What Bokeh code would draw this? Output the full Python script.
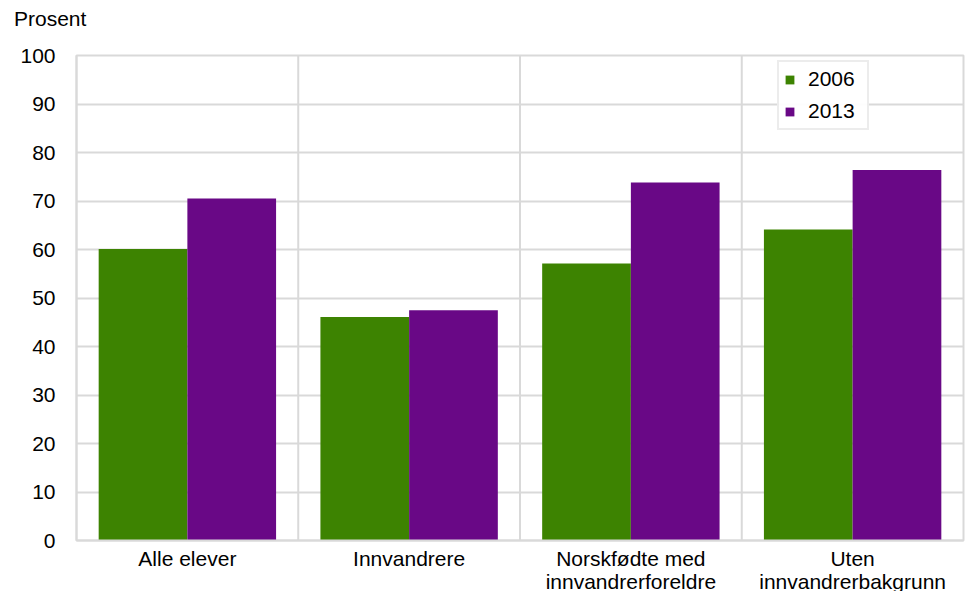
from bokeh.plotting import figure
from bokeh.models import FactorRange, ColumnDataSource, Span, Legend, LegendItem, Div
from bokeh.layouts import column
from bokeh.transform import dodge
from bokeh.embed import file_html
from bokeh.resources import INLINE

categories = ["Alle elever", "Innvandrere", "Norskfødte med\ninnvandrerforeldre", "Uten\ninnvandrerbakgrunn"]
years = ["2006", "2013"]
values_2006 = [60.1, 46.1, 57.1, 64.1]
values_2013 = [70.5, 47.5, 73.8, 76.4]
y_ticks = [0, 10, 20, 30, 40, 50, 60, 70, 80, 90, 100]
y_unit = "Prosent"

GREEN = "#3D8301"
PURPLE = "#690886"
GRID = "#d9d9d9"
FONT = "Liberation Sans"
FS = "21px"

src = ColumnDataSource(dict(cat=categories, v2006=values_2006, v2013=values_2013))

header = Div(text=y_unit, width=120, height=27, margin=(7, 0, 0, 14),
             styles={"font-size": FS, "font-family": FONT, "color": "#000000",
                     "line-height": "24px"})

p = figure(width=965, height=564, output_backend="svg", toolbar_location=None,
           x_range=FactorRange(factors=categories, range_padding=0),
           y_range=(0, 100),
           min_border_left=76, min_border_right=2, min_border_top=21, min_border_bottom=58)

r1 = p.vbar(x=dodge("cat", -0.2, range=p.x_range), top="v2006", width=0.4, source=src,
            fill_color=GREEN, line_color=None)
r2 = p.vbar(x=dodge("cat", 0.2, range=p.x_range), top="v2013", width=0.4, source=src,
            fill_color=PURPLE, line_color=None)

for i in range(1, len(categories)):
    p.add_layout(Span(location=i, dimension="height", line_color=GRID, line_width=2, level="underlay"))

p.xgrid.grid_line_color = None
p.ygrid.grid_line_color = GRID
p.ygrid.grid_line_width = 2
p.ygrid.ticker = y_ticks
p.yaxis.ticker = y_ticks

p.outline_line_color = GRID
p.outline_line_width = 2

for ax in (p.xaxis[0], p.yaxis[0]):
    ax.axis_line_color = GRID
    ax.axis_line_width = 2
    ax.major_tick_line_color = None
    ax.minor_tick_line_color = None
    ax.major_label_text_font = FONT
    ax.major_label_text_font_size = FS
    ax.major_label_text_color = "#000000"
p.yaxis.major_label_standoff = 15
p.xaxis.major_label_standoff = 0
p.xaxis.major_label_text_line_height = 1.0

legend = Legend(items=[LegendItem(label=years[0], renderers=[r1]),
                       LegendItem(label=years[1], renderers=[r2])],
                location=(701, 410))
legend.border_line_color = GRID
legend.border_line_width = 2
legend.glyph_width = 11
legend.glyph_height = 11
legend.label_text_font = FONT
legend.label_text_font_size = FS
legend.label_text_color = "#000000"
legend.label_standoff = 13
legend.label_height = 22
legend.label_width = 54
legend.padding = 5
legend.spacing = 8
legend.margin = 0
p.add_layout(legend)

layout = column(header, p, spacing=0)
open("out.html", "w").write(file_html(layout, INLINE))
